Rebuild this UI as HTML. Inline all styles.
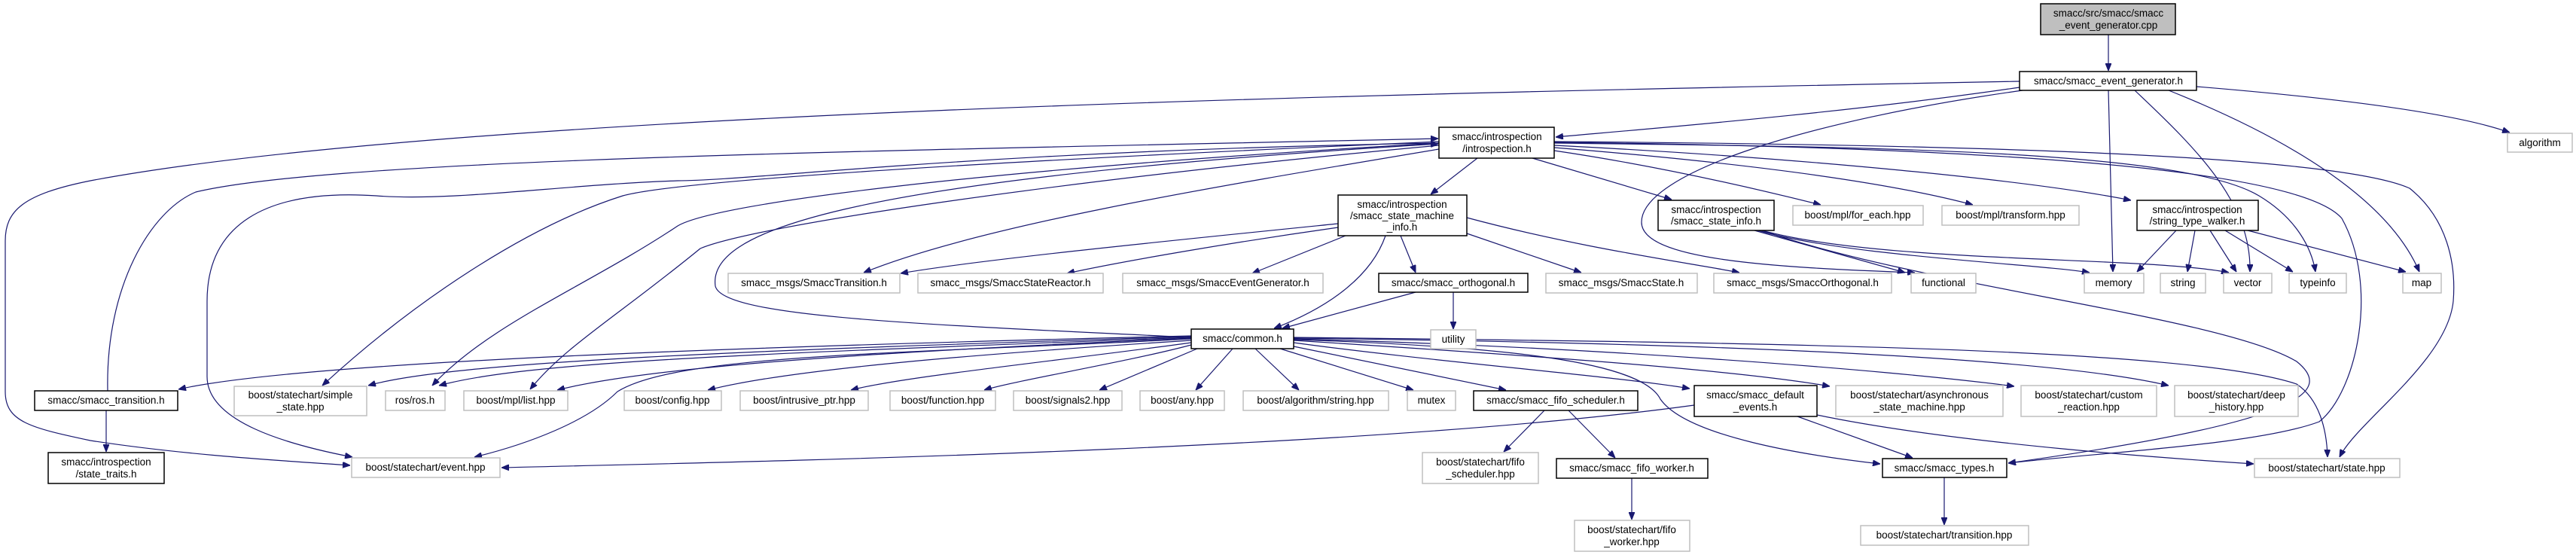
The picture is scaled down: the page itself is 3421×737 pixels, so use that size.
<!DOCTYPE html>
<html><head><meta charset="utf-8"><style>
html,body{margin:0;padding:0;background:#fff}
svg{display:block}
text{font-family:"Liberation Sans",sans-serif;font-size:13.5px;fill:#000;text-anchor:middle}
.b{fill:#fff;stroke:#000;stroke-width:1.5}
.g{fill:#fff;stroke:#bfbfbf;stroke-width:1.5}
.r{fill:#bfbfbf;stroke:#000;stroke-width:1.5}
path.e{fill:none;stroke:#191970;stroke-width:1.2}
</style></head><body>
<svg width="3421" height="737" viewBox="0 0 3421 737" xmlns="http://www.w3.org/2000/svg">
<defs><marker id="a" markerWidth="10" markerHeight="8" refX="10" refY="4" orient="auto" markerUnits="userSpaceOnUse"><path d="M0,0 L10,4 L0,8 z" fill="#191970" stroke="#191970"/></marker></defs>
<g marker-end="url(#a)">
<path class="e" d="M2800,46 L2800,94"/>
<path class="e" d="M2682,116 C2450,150 2200,170 2066,182"/>
<path class="e" d="M2682,108 C1800,125 600,150 120,240 C30,258 7,280 7,320 L7,520 C7,560 40,568 120,585 C250,605 380,612 465,618"/>
<path class="e" d="M2686,120 C2400,160 2180,230 2180,295 C2180,345 2350,355 2543,362"/>
<path class="e" d="M2800,120 L2806,361"/>
<path class="e" d="M2835,120 C2920,200 2990,270 2988,361"/>
<path class="e" d="M2880,120 C3030,180 3170,260 3213,361"/>
<path class="e" d="M2917,115 C3100,130 3260,150 3333,176"/>
<path class="e" d="M1962,210 L1900,258"/>
<path class="e" d="M2035,210 L2220,265"/>
<path class="e" d="M2064,200 C2200,220 2330,250 2418,272"/>
<path class="e" d="M2064,196 C2300,215 2500,240 2620,272"/>
<path class="e" d="M2064,193 C2400,210 2700,240 2830,266"/>
<path class="e" d="M2064,190 C2500,195 2900,200 3000,260 C3050,290 3070,330 3075,361"/>
<path class="e" d="M2064,189 C2600,195 3050,220 3110,290 C3160,380 3130,520 3080,560 C3000,590 2800,600 2667,615"/>
<path class="e" d="M2064,188 C2600,192 3100,205 3200,250 C3250,290 3262,350 3258,400 C3250,480 3130,560 3107,607"/>
<path class="e" d="M1911,198 C1600,250 1300,300 1147,362"/>
<path class="e" d="M1911,188 C1300,215 900,240 827,260 C700,300 550,400 428,512"/>
<path class="e" d="M1911,190 C1300,225 950,270 900,300 C780,380 650,430 574,512"/>
<path class="e" d="M1911,193 C1400,240 1000,300 930,330 C820,420 750,460 704,517"/>
<path class="e" d="M143,519 C140,380 200,280 260,255 C450,210 1200,200 1910,184"/>
<path class="e" d="M1911,190 C1300,200 1000,240 900,240 C750,245 600,268 500,260 C350,250 275,300 275,400 L275,500 C275,560 380,590 468,607"/>
<path class="e" d="M1582,448 C1200,430 960,420 950,380 C940,310 1100,240 1910,191"/>
<path class="e" d="M1777,297 C1550,320 1300,345 1196,363"/>
<path class="e" d="M1777,302 C1650,320 1500,345 1417,363"/>
<path class="e" d="M1787,313 L1663,363"/>
<path class="e" d="M1860,313 L1880,362"/>
<path class="e" d="M1948,310 L2100,362"/>
<path class="e" d="M1948,289 C2100,330 2250,350 2310,362"/>
<path class="e" d="M1840,313 C1820,370 1760,410 1692,436"/>
<path class="e" d="M1880,388 L1703,436"/>
<path class="e" d="M1930,388 L1930,437"/>
<path class="e" d="M2330,306 L2530,362"/>
<path class="e" d="M2335,306 C2450,340 2700,350 2775,362"/>
<path class="e" d="M2340,306 C2500,350 2850,340 2960,362"/>
<path class="e" d="M2340,306 C2550,380 2950,420 3050,480 C3100,520 3060,560 2667,615"/>
<path class="e" d="M2890,306 L2838,361"/>
<path class="e" d="M2915,306 L2905,361"/>
<path class="e" d="M2935,306 L2970,361"/>
<path class="e" d="M2955,306 L3045,361"/>
<path class="e" d="M2985,306 L3195,361"/>
<path class="e" d="M1582,446 C1000,460 400,480 237,517"/>
<path class="e" d="M1582,447 C1000,465 600,480 489,512"/>
<path class="e" d="M1582,448 C1000,470 700,480 583,512"/>
<path class="e" d="M1582,449 C1100,470 850,490 740,518"/>
<path class="e" d="M1582,450 C1200,470 900,470 820,520 C780,560 700,590 630,607"/>
<path class="e" d="M1582,452 C1300,470 1050,490 940,518"/>
<path class="e" d="M1582,455 C1400,480 1200,500 1130,518"/>
<path class="e" d="M1582,458 C1500,480 1350,505 1307,518"/>
<path class="e" d="M1590,463 L1460,518"/>
<path class="e" d="M1637,463 L1588,518"/>
<path class="e" d="M1667,463 L1725,518"/>
<path class="e" d="M1700,463 L1877,518"/>
<path class="e" d="M1718,460 L2000,518"/>
<path class="e" d="M1718,455 C1900,480 2150,500 2244,516"/>
<path class="e" d="M1718,452 C2000,470 2300,490 2430,513"/>
<path class="e" d="M1718,450 C2100,460 2500,490 2675,513"/>
<path class="e" d="M1718,449 C2200,455 2700,470 2880,512"/>
<path class="e" d="M1718,451 C2000,460 2180,480 2205,530 C2240,580 2400,605 2497,616"/>
<path class="e" d="M1718,448 C2300,455 2900,460 3050,510 C3080,530 3090,570 3091,607"/>
<path class="e" d="M2250,538 C1800,600 900,615 666,621"/>
<path class="e" d="M2387,553 L2540,608"/>
<path class="e" d="M2413,551 C2600,590 2900,610 2993,616"/>
<path class="e" d="M2051,545 L1997,600"/>
<path class="e" d="M2083,545 L2145,608"/>
<path class="e" d="M2167,635 L2167,690"/>
<path class="e" d="M2582,634 L2582,697"/>
<path class="e" d="M141,545 L141,600"/>
</g>

<rect class="r" x="2710" y="5" width="179" height="41"/><text x="2800" y="22">smacc/src/smacc/smacc</text><text x="2800" y="38">_event_generator.cpp</text>
<rect class="b" x="2682" y="95" width="235" height="25"/><text x="2800" y="112">smacc/smacc_event_generator.h</text>
<rect class="b" x="1911" y="169" width="153" height="41"/><text x="1988" y="186">smacc/introspection</text><text x="1988" y="202">/introspection.h</text>
<rect class="g" x="3330" y="177" width="86" height="25"/><text x="3373" y="194">algorithm</text>
<rect class="b" x="1777" y="259" width="171" height="54"/><text x="1862" y="276">smacc/introspection</text><text x="1862" y="291">/smacc_state_machine</text><text x="1862" y="306">_info.h</text>
<rect class="b" x="2202" y="266" width="154" height="40"/><text x="2279" y="283">smacc/introspection</text><text x="2279" y="298">/smacc_state_info.h</text>
<rect class="g" x="2381" y="273" width="173" height="26"/><text x="2467" y="290">boost/mpl/for_each.hpp</text>
<rect class="g" x="2579" y="273" width="182" height="26"/><text x="2670" y="290">boost/mpl/transform.hpp</text>
<rect class="b" x="2838" y="266" width="161" height="40"/><text x="2918" y="283">smacc/introspection</text><text x="2918" y="298">/string_type_walker.h</text>
<rect class="g" x="967" y="363" width="228" height="26"/><text x="1081" y="380">smacc_msgs/SmaccTransition.h</text>
<rect class="g" x="1219" y="363" width="246" height="26"/><text x="1342" y="380">smacc_msgs/SmaccStateReactor.h</text>
<rect class="g" x="1491" y="363" width="266" height="26"/><text x="1624" y="380">smacc_msgs/SmaccEventGenerator.h</text>
<rect class="b" x="1831" y="363" width="198" height="25"/><text x="1930" y="380">smacc/smacc_orthogonal.h</text>
<rect class="g" x="2053" y="363" width="201" height="26"/><text x="2153" y="380">smacc_msgs/SmaccState.h</text>
<rect class="g" x="2276" y="363" width="236" height="26"/><text x="2394" y="380">smacc_msgs/SmaccOrthogonal.h</text>
<rect class="g" x="2538" y="363" width="86" height="26"/><text x="2581" y="380">functional</text>
<rect class="g" x="2768" y="363" width="79" height="26"/><text x="2807" y="380">memory</text>
<rect class="g" x="2869" y="363" width="60" height="26"/><text x="2899" y="380">string</text>
<rect class="g" x="2953" y="363" width="64" height="26"/><text x="2985" y="380">vector</text>
<rect class="g" x="3040" y="363" width="76" height="26"/><text x="3078" y="380">typeinfo</text>
<rect class="g" x="3191" y="363" width="51" height="26"/><text x="3216" y="380">map</text>
<rect class="b" x="1582" y="437" width="136" height="26"/><text x="1650" y="454">smacc/common.h</text>
<rect class="g" x="1900" y="438" width="60" height="25"/><text x="1930" y="455">utility</text>
<rect class="b" x="46" y="519" width="190" height="26"/><text x="141" y="536">smacc/smacc_transition.h</text>
<rect class="g" x="311" y="513" width="176" height="39"/><text x="399" y="529">boost/statechart/simple</text><text x="399" y="545">_state.hpp</text>
<rect class="g" x="512" y="519" width="79" height="26"/><text x="551" y="536">ros/ros.h</text>
<rect class="g" x="616" y="519" width="138" height="26"/><text x="685" y="536">boost/mpl/list.hpp</text>
<rect class="g" x="829" y="519" width="129" height="26"/><text x="893" y="536">boost/config.hpp</text>
<rect class="g" x="983" y="519" width="170" height="26"/><text x="1068" y="536">boost/intrusive_ptr.hpp</text>
<rect class="g" x="1182" y="519" width="140" height="26"/><text x="1252" y="536">boost/function.hpp</text>
<rect class="g" x="1346" y="519" width="144" height="26"/><text x="1418" y="536">boost/signals2.hpp</text>
<rect class="g" x="1514" y="519" width="112" height="26"/><text x="1570" y="536">boost/any.hpp</text>
<rect class="g" x="1651" y="519" width="193" height="26"/><text x="1747" y="536">boost/algorithm/string.hpp</text>
<rect class="g" x="1869" y="519" width="64" height="26"/><text x="1901" y="536">mutex</text>
<rect class="b" x="1957" y="519" width="218" height="26"/><text x="2066" y="536">smacc/smacc_fifo_scheduler.h</text>
<rect class="b" x="2250" y="512" width="163" height="41"/><text x="2331" y="529">smacc/smacc_default</text><text x="2331" y="545">_events.h</text>
<rect class="g" x="2438" y="512" width="222" height="41"/><text x="2549" y="529">boost/statechart/asynchronous</text><text x="2549" y="545">_state_machine.hpp</text>
<rect class="g" x="2684" y="512" width="180" height="41"/><text x="2774" y="529">boost/statechart/custom</text><text x="2774" y="545">_reaction.hpp</text>
<rect class="g" x="2888" y="512" width="164" height="41"/><text x="2970" y="529">boost/statechart/deep</text><text x="2970" y="545">_history.hpp</text>
<rect class="b" x="64" y="601" width="154" height="41"/><text x="141" y="618">smacc/introspection</text><text x="141" y="634">/state_traits.h</text>
<rect class="g" x="467" y="608" width="197" height="26"/><text x="565" y="625">boost/statechart/event.hpp</text>
<rect class="g" x="1889" y="601" width="154" height="41"/><text x="1966" y="618">boost/statechart/fifo</text><text x="1966" y="634">_scheduler.hpp</text>
<rect class="b" x="2067" y="609" width="201" height="26"/><text x="2167" y="626">smacc/smacc_fifo_worker.h</text>
<rect class="b" x="2500" y="609" width="165" height="25"/><text x="2582" y="626">smacc/smacc_types.h</text>
<rect class="g" x="2994" y="609" width="193" height="25"/><text x="3090" y="626">boost/statechart/state.hpp</text>
<rect class="g" x="2471" y="698" width="223" height="26"/><text x="2582" y="715">boost/statechart/transition.hpp</text>
<rect class="g" x="2091" y="691" width="153" height="41"/><text x="2167" y="708">boost/statechart/fifo</text><text x="2167" y="724">_worker.hpp</text>
</svg>
</body></html>
